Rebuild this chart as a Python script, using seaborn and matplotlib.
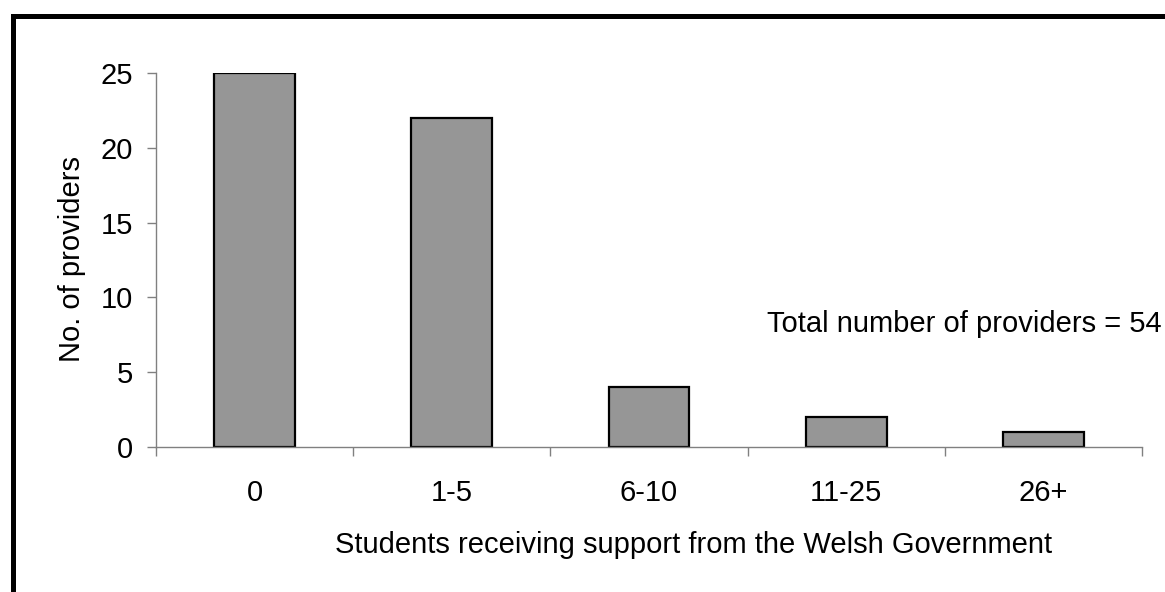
import matplotlib
matplotlib.use("Agg")
import matplotlib.pyplot as plt
from matplotlib.lines import Line2D
import seaborn as sns
import pandas as pd

categories = ["0", "1-5", "6-10", "11-25", "26+"]
providers = [25, 22, 4, 2, 1]
total_note = "Total number of providers = 54"
x_title = "Students receiving support from the Welsh Government"
y_title = "No. of providers"

sns.set_theme(style="white")
plt.rcParams["font.family"] = ["Liberation Sans", "DejaVu Sans"]

W, H, DPI = 1165, 592, 100
FS = 21
fig = plt.figure(figsize=(W / DPI, H / DPI), dpi=DPI)
ax = fig.add_axes([156 / W, 1 - 447 / H, (1142 - 156) / W, (447 - 73) / H])

df = pd.DataFrame({"group": categories, "count": providers})
sns.barplot(data=df, x="group", y="count", order=categories, color="#969696",
            saturation=1, width=0.41, edgecolor="black", linewidth=1.6, ax=ax)

ax.set_xlim(-0.5, len(categories) - 0.5)
ax.set_ylim(0, 25)
ax.set_yticks(range(0, 26, 5))

# category boundaries carry the tick marks, labels sit at the bar centres
ax.set_xticks([i - 0.5 for i in range(len(categories) + 1)])
ax.set_xticklabels([])
ax.set_xticks(range(len(categories)), minor=True)
ax.set_xticklabels(categories, minor=True)
ax.tick_params(axis="x", which="major", direction="out", length=6.5, width=1,
               color="#808080", bottom=True)
ax.tick_params(axis="x", which="minor", length=0, pad=23, labelsize=FS,
               labelcolor="black")
ax.tick_params(axis="y", direction="out", length=6.5, width=1, color="#808080",
               left=True, labelsize=FS, pad=10, labelcolor="black")

for side in ("top", "right"):
    ax.spines[side].set_visible(False)
for side in ("left", "bottom"):
    ax.spines[side].set_color("#808080")
    ax.spines[side].set_linewidth(1)

ax.set_xlabel("")
ax.set_ylabel("")
fig.text(694 / W, 1 - 553 / H, x_title, fontsize=FS, ha="center",
         va="baseline", color="black")
fig.text(72 / W, 1 - 259 / H, y_title, fontsize=FS, ha="center",
         va="center", rotation=90, color="black")

fig.text(1162 / W, 1 - 332 / H, total_note, fontsize=FS, ha="right",
         va="baseline", color="black")

# outer frame of the chart area
fig.add_artist(Line2D([12.5 / W, 12.5 / W], [-0.05, 1 - 15.5 / H],
                      transform=fig.transFigure, color="black", linewidth=3.6,
                      solid_capstyle="projecting"))
fig.add_artist(Line2D([12.5 / W, 1.05], [1 - 15.5 / H, 1 - 15.5 / H],
                      transform=fig.transFigure, color="black", linewidth=3.6,
                      solid_capstyle="projecting"))

fig.savefig("out.png", dpi=DPI, facecolor="white")
